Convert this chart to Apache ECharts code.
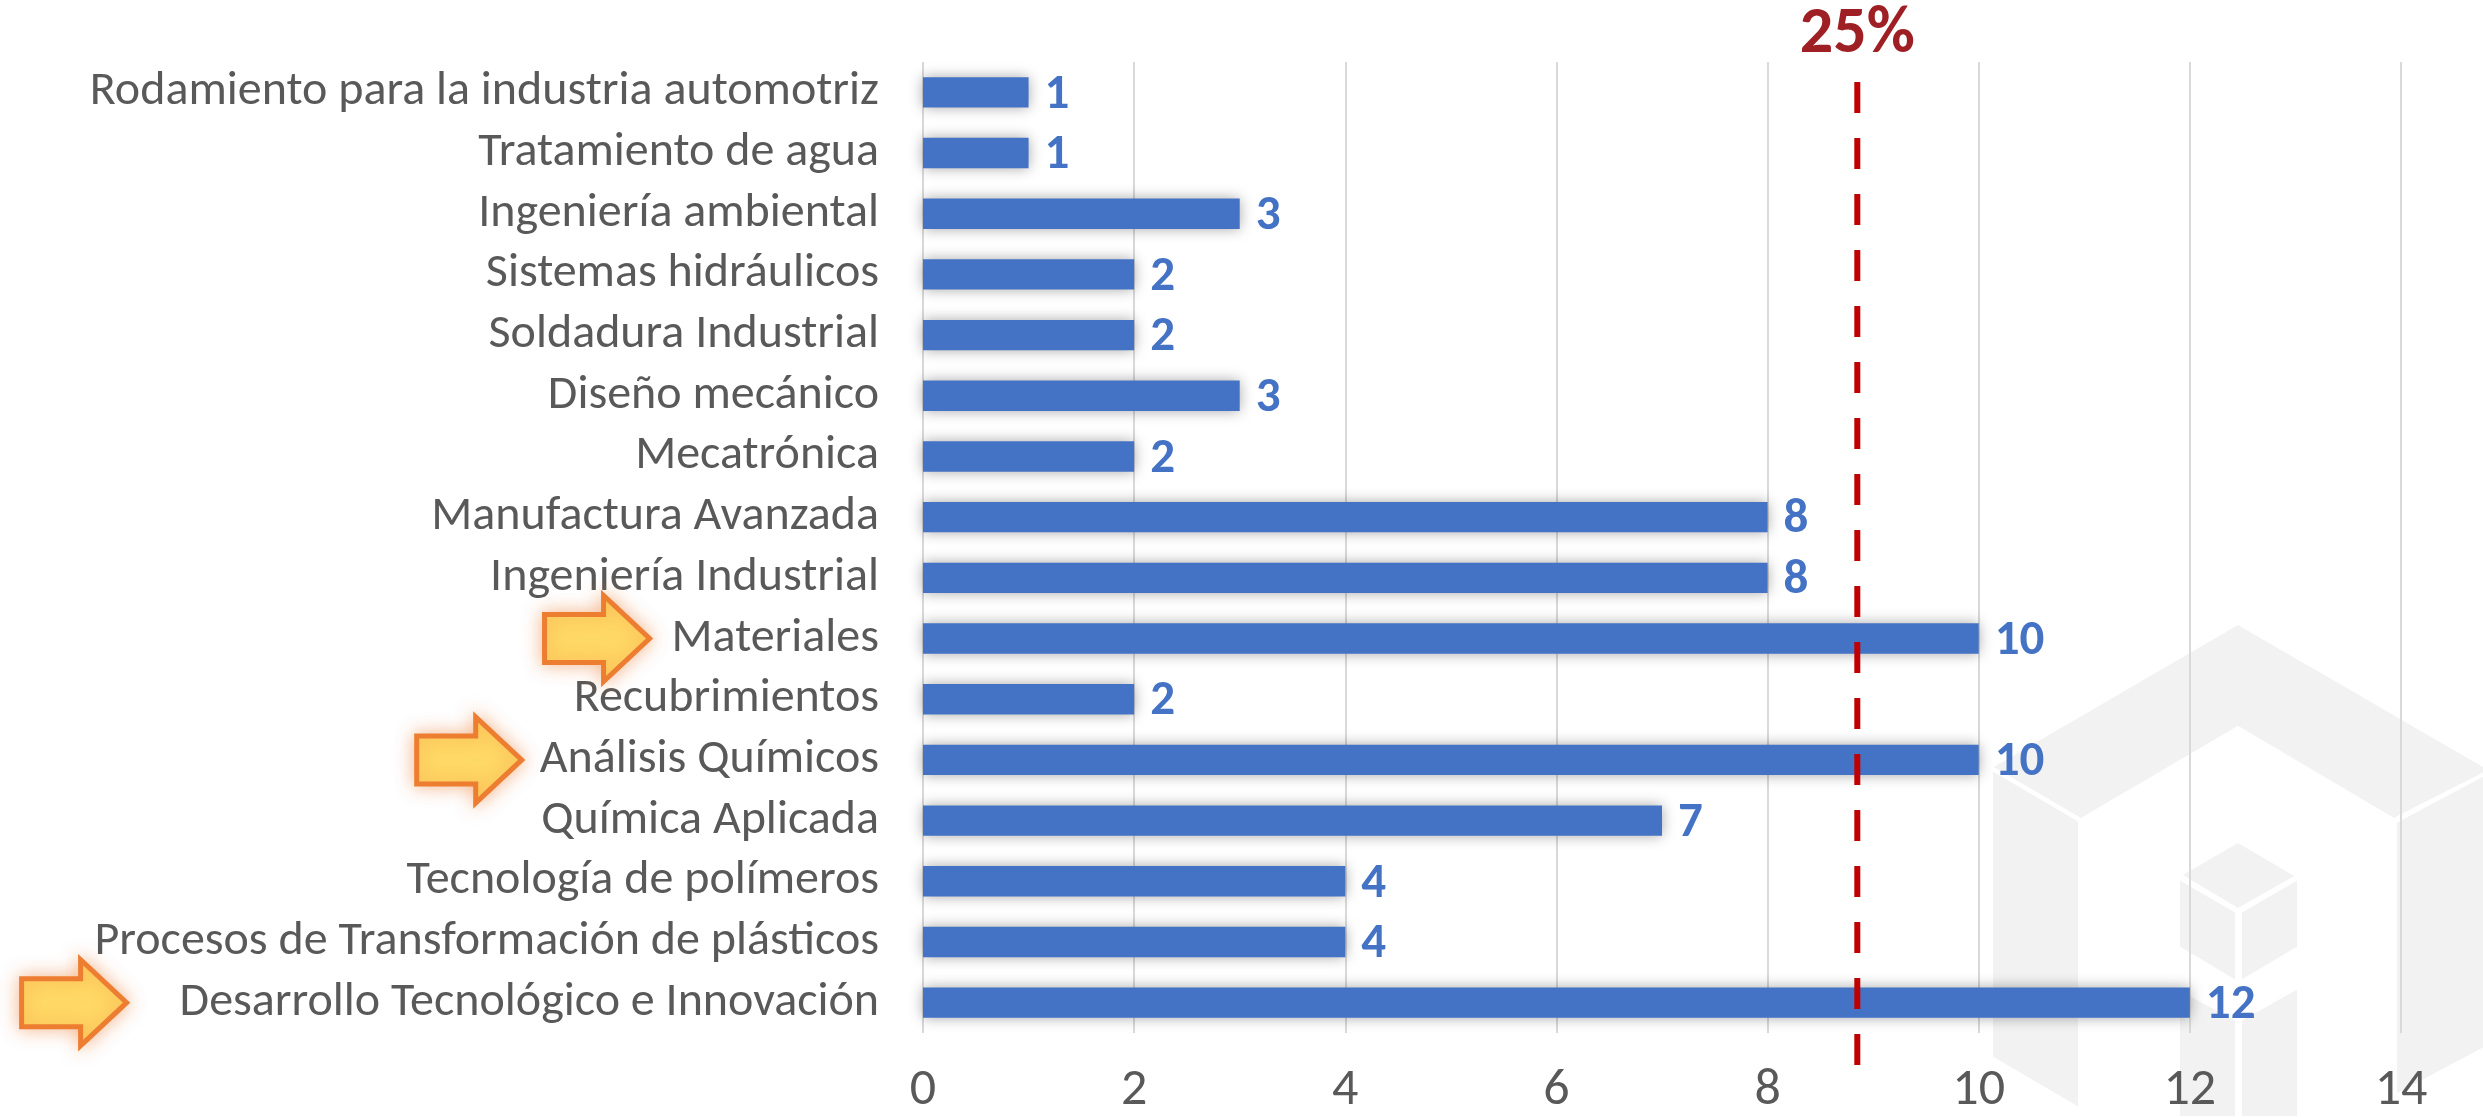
<!DOCTYPE html>
<html>
<head>
<meta charset="utf-8">
<script src="https://cdn.jsdelivr.net/npm/echarts@6/dist/echarts.min.js"></script>
<style>
  html, body { margin: 0; padding: 0; background: #ffffff; }
  #chart { width: 2483px; height: 1117px; }
</style>
</head>
<body>
<div id="chart"></div>
<script>
// Categories top to bottom
const categories = [
  'Rodamiento para la industria automotriz',
  'Tratamiento de agua',
  'Ingeniería ambiental',
  'Sistemas hidráulicos',
  'Soldadura Industrial',
  'Diseño mecánico',
  'Mecatrónica',
  'Manufactura Avanzada',
  'Ingeniería Industrial',
  'Materiales',
  'Recubrimientos',
  'Análisis Químicos',
  'Química Aplicada',
  'Tecnología de polímeros',
  'Procesos de Transformación de plásticos',
  'Desarrollo Tecnológico e Innovación',
];
const counts = [1, 1, 3, 2, 2, 3, 2, 8, 8, 10, 2, 10, 7, 4, 4, 12];

// 25% reference line, sits a little short of 9 on the value axis
const refValue = 8.85;
const refLabel = '25%';

const xTicks = { min: 0, max: 14, interval: 2 };

// highlighted rows get an arrow; gap = space between arrow tip and label start
const highlighted = ['Materiales', 'Análisis Químicos', 'Desarrollo Tecnológico e Innovación'];
const arrowGaps = [22, 18, 53];

const FONT = 'Carlito, Lato, sans-serif';
const LABEL_SIZE = 48;
const LABEL_MARGIN = 44;
const GRID = { left: 923, right: 82, top: 62, bottom: 82 };

const chart = echarts.init(document.getElementById('chart'), null, { renderer: 'canvas' });

const option = {
  backgroundColor: '#ffffff',
  animation: false,
  grid: [
    GRID,
    // taller twin grid so the dashed line can poke out above and below the plot
    { left: GRID.left, right: GRID.right, top: 81, bottom: 52 },
  ],
  xAxis: [
    {
      type: 'value', gridIndex: 0, ...xTicks,
      axisLine: { show: false }, axisTick: { show: false },
      splitLine: { show: true, lineStyle: { color: '#d9d9d9', width: 2 } },
      axisLabel: { color: '#595959', fontSize: 52, fontFamily: FONT, margin: 32 },
    },
    { type: 'value', gridIndex: 1, ...xTicks, show: false },
  ],
  yAxis: [
    {
      type: 'category', gridIndex: 0, data: categories, inverse: true,
      axisLine: { show: false }, axisTick: { show: false },
      splitLine: { show: false },
      axisLabel: {
        interval: 0, hideOverlap: false, padding: [5, 0, 0, 0],
        color: '#595959', fontSize: LABEL_SIZE, fontFamily: FONT, margin: LABEL_MARGIN,
      },
    },
    { type: 'value', gridIndex: 1, min: 0, max: 1, show: false },
  ],
  series: [
    {
      type: 'bar', xAxisIndex: 0, yAxisIndex: 0,
      data: counts, barWidth: '50%',
      itemStyle: { color: '#4472C4', shadowBlur: 14, shadowColor: 'rgba(0,0,0,0.35)' },
      label: {
        show: true, position: 'right', distance: 16, offset: [0, 3],
        color: '#4472C4', fontSize: 49, fontWeight: 'bold', fontFamily: FONT,
      },
    },
    {
      type: 'line', xAxisIndex: 1, yAxisIndex: 1, z: 10,
      symbol: 'none', silent: true,
      lineStyle: { color: '#C00000', width: 6, type: [31, 25] },
      data: [[refValue, 0], [refValue, 1]],
      markPoint: {
        silent: true,
        symbol: 'circle', symbolSize: 1,
        itemStyle: { color: 'rgba(0,0,0,0)' },
        label: {
          show: true, position: 'top', distance: 12, formatter: refLabel,
          color: '#9E1F24', fontSize: 66, fontWeight: 'bold', fontFamily: FONT,
        },
        data: [{ coord: [refValue, 1] }],
      },
    },
  ],
};
chart.setOption(option);

// faint isometric logo behind the plot (decoration only)
const WM = '#f2f2f2';
const watermark = [
  [[1992, 767], [2238, 624], [2490, 770], [2394, 819], [2238, 727], [2081, 819]],
  [[1992, 770], [2079, 821], [2079, 1108], [1992, 1057]],
  [[2396, 822], [2490, 772], [2490, 1045], [2396, 1095]],
  [[2238, 842], [2296, 876], [2238, 909], [2181, 875]],
  [[2179, 879], [2236, 912], [2236, 981], [2179, 947]],
  [[2241, 912], [2298, 879], [2298, 947], [2241, 981]],
  [[2179, 989], [2236, 1020], [2236, 1117], [2179, 1117]],
  [[2241, 1020], [2298, 988], [2298, 1117], [2241, 1117]],
].map((pts, i) => ({
  type: 'polygon', id: 'wm' + i, silent: true, z: -10,
  shape: { points: pts },
  style: { fill: WM, stroke: '#ffffff', lineWidth: 2 },
}));

// arrows next to the highlighted labels, placed from the category axis
const ctx = document.createElement('canvas').getContext('2d');
ctx.font = LABEL_SIZE + 'px ' + FONT;
const labelRight = GRID.left - LABEL_MARGIN;
const arrows = highlighted.map((name, i) => {
  const y = chart.convertToPixel({ yAxisIndex: 0 }, name);
  const tip = labelRight - ctx.measureText(name).width - arrowGaps[i];
  return {
    type: 'polygon', id: 'arrow' + i, silent: true, z: 20,
    shape: { points: [
      [tip - 105, y - 24], [tip - 46, y - 24], [tip - 46, y - 43], [tip, y],
      [tip - 46, y + 43], [tip - 46, y + 24], [tip - 105, y + 24],
    ] },
    style: {
      fill: '#FFD966', stroke: '#ED7D31', lineWidth: 5, lineJoin: 'miter',
      shadowBlur: 18, shadowColor: 'rgba(237,125,49,0.5)',
    },
  };
});

chart.setOption({ graphic: watermark.concat(arrows) });
</script>
</body>
</html>
